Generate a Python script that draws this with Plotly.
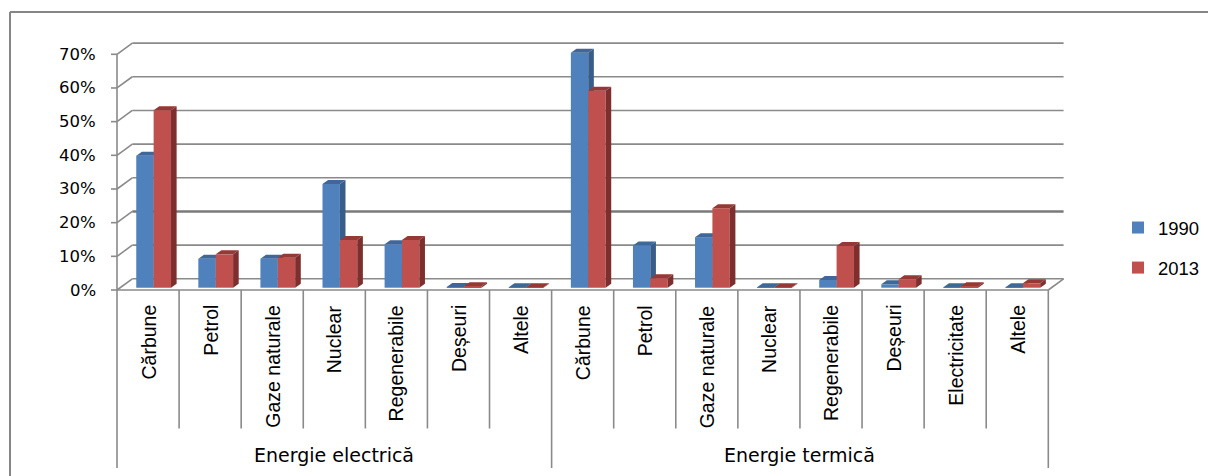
import plotly.graph_objects as go

# ---------------- data ----------------
groups = ["Energie electrică", "Energie termică"]
cats_electric = ["Cărbune", "Petrol", "Gaze naturale", "Nuclear", "Regenerabile", "Deșeuri", "Altele"]
cats_thermal = ["Cărbune", "Petrol", "Gaze naturale", "Nuclear", "Regenerabile", "Deșeuri", "Electricitate", "Altele"]
series_names = ["1990", "2013"]
v1990_electric = [39.2, 8.6, 8.6, 30.8, 12.9, 0.2, 0.1]
v2013_electric = [52.7, 9.9, 8.9, 14.2, 14.2, 0.4, 0.1]
v1990_thermal = [69.8, 12.5, 15.0, 0.1, 2.3, 1.0, 0.1, 0.1]
v2013_thermal = [58.5, 2.8, 23.6, 0.1, 12.4, 2.5, 0.4, 1.3]
y_ticks = [0, 10, 20, 30, 40, 50, 60, 70]
y_tick_labels = ["0%", "10%", "20%", "30%", "40%", "50%", "60%", "70%"]

# ---------------- geometry ----------------
W, H = 1208, 476
categories = cats_electric + cats_thermal
N = len(categories)
series = [v1990_electric + v1990_thermal, v2013_electric + v2013_thermal]

X0 = 117.0
CW = (1048.3 - X0) / N
Y0 = 290.0
YS = (290.0 - 54.3) / 70.0


def px_x(p):
    return (p - X0) / CW


def px_y(p):
    return (Y0 - p) / YS


XR = [px_x(0), px_x(W)]
YR = [px_y(H), px_y(0)]
DX = 15.3 / CW          # floor depth (x)
DY = 11.2 / YS          # floor depth (y)
BASE = px_y(287.7)      # bar bottom (front face)
BW = 0.28
OFF = [0.45, 0.73]
BDX = 5.6 / CW
BDY = 4.0 / YS

front_col = ["#4F81BD", "#C0504D"]
side_col = ["#385D8A", "#7D2F2D"]
top_col = ["#3F6899", "#953937"]
FONT_V = "Liberation Sans, Arial, sans-serif"
FONT_H = "DejaVu Sans, Verdana, sans-serif"

fig = go.Figure()
for s, vals in enumerate(series):
    xa = "x" if s == 0 else "x2"
    ya = "y" if s == 0 else "y2"
    xs = [i + OFF[s] for i in range(N)]
    fig.add_trace(go.Bar(
        x=xs, y=vals, base=BASE, width=BW, name=series_names[s],
        marker=dict(color=front_col[s], line=dict(width=0)),
        xaxis=xa, yaxis=ya, legendgroup=series_names[s], hoverinfo="skip",
    ))
    sx, sy, tx, ty = [], [], [], []
    for i, v in enumerate(vals):
        xl = xs[i] - BW / 2
        xr = xs[i] + BW / 2
        t = BASE + v
        sx += [xr, xr, xr + BDX, xr + BDX, xr, None]
        sy += [BASE, t, t + BDY, BASE + BDY, BASE, None]
        tx += [xl, xr, xr + BDX, xl + BDX, xl, None]
        ty += [t, t, t + BDY, t + BDY, t, None]
    fig.add_trace(go.Scatter(x=sx, y=sy, mode="lines", fill="toself", fillcolor=side_col[s],
                             line=dict(width=0, color=side_col[s]), showlegend=False,
                             xaxis=xa, yaxis=ya, hoverinfo="skip"))
    fig.add_trace(go.Scatter(x=tx, y=ty, mode="lines", fill="toself", fillcolor=top_col[s],
                             line=dict(width=0, color=top_col[s]), showlegend=False,
                             xaxis=xa, yaxis=ya, hoverinfo="skip"))

shapes = []
GRID = "#8a8a8a"


def line(x0, y0, x1, y1, color=GRID, width=1.6):
    shapes.append(dict(type="line", xref="x", yref="y", x0=x0, y0=y0, x1=x1, y1=y1,
                       line=dict(color=color, width=width), layer="below"))


for v in y_ticks:
    w = 2.5 if v == 20 else 1.6
    c = "#7a7a7a" if v == 20 else GRID
    line(DX, v + DY, N + DX, v + DY, c, w)       # back wall gridline
    line(0, v, DX, v + DY)                        # side wall diagonal
    line(px_x(111), v, 0, v)                      # tick mark
line(0, 0, 0, y_ticks[-1])                        # front value axis
line(0, 0, N, 0)                                  # category axis
line(N, 0, N + DX, DY)                            # floor right edge
n_el = len(cats_electric)
for i in range(N + 1):
    if i in (0, n_el, N):
        line(i, 0, i, px_y(468))
    else:
        line(i, 0, i, px_y(428.5))
# outer chart frame
line(px_x(10), px_y(12), px_x(10), px_y(H + 5), "#868686", 2)
line(px_x(10), px_y(12), px_x(W + 5), px_y(12), "#868686", 2)

ann = []
for v, lab in zip(y_ticks, y_tick_labels):
    ann.append(dict(x=px_x(98), y=v, xref="x", yref="y", text=lab, showarrow=False,
                    xanchor="right", yanchor="middle", font=dict(size=16.5, color="#000000", family=FONT_H)))
for i, lab in enumerate(categories):
    ann.append(dict(x=i + 0.5, y=px_y(303), xref="x", yref="y", text=lab, showarrow=False,
                    textangle=-90, xanchor="center", yanchor="top",
                    font=dict(size=19.5, color="#000000", family=FONT_V)))
for g, (a, b) in zip(groups, [(0, n_el), (n_el, N)]):
    ann.append(dict(x=(a + b) / 2, y=px_y(455), xref="x", yref="y", text=g, showarrow=False,
                    xanchor="center", yanchor="middle", font=dict(size=19, color="#000000", family=FONT_H)))

ax = dict(range=XR, visible=False, fixedrange=True)
ay = dict(range=YR, visible=False, fixedrange=True)
fig.update_layout(
    width=W, height=H, margin=dict(l=0, r=0, t=0, b=0),
    paper_bgcolor="white", plot_bgcolor="white",
    xaxis=dict(**ax), yaxis=dict(**ay),
    xaxis2=dict(**ax, overlaying="x", anchor="y2"),
    yaxis2=dict(**ay, overlaying="y", anchor="x2"),
    barmode="overlay", shapes=shapes, annotations=ann,
    showlegend=True,
    legend=dict(x=1118 / W, y=1 - 209 / H, xanchor="left", yanchor="top",
                traceorder="grouped", tracegroupgap=13, bgcolor="rgba(0,0,0,0)",
                font=dict(size=18.5, color="#000000", family=FONT_V)),
)
fig.write_html("out.html")
